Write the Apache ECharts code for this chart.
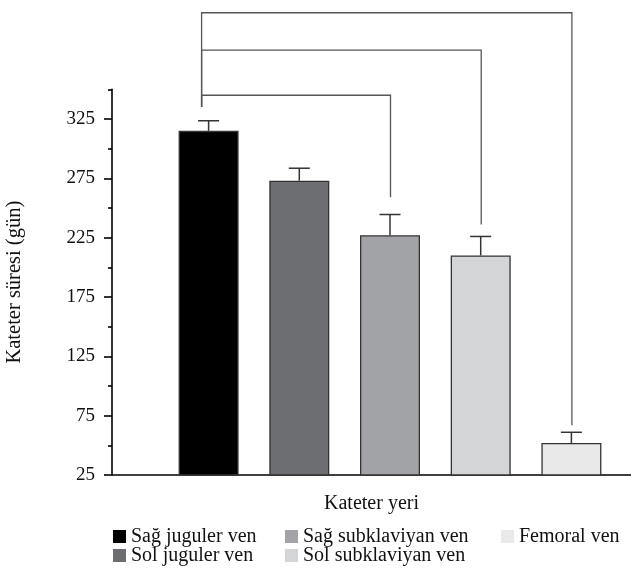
<!DOCTYPE html>
<html>
<head>
<meta charset="utf-8">
<script src="https://cdn.jsdelivr.net/npm/echarts@6/dist/echarts.min.js"></script>
<style>
html,body{margin:0;padding:0;background:#fff;}
#c{width:631px;height:575px;}
</style>
</head>
<body>
<div id="c"></div>
<script>
const categories = ['Sağ juguler ven', 'Sol juguler ven', 'Sağ subklaviyan ven', 'Sol subklaviyan ven', 'Femoral ven'];
const durations = [315, 273, 227, 210, 52];
const errors = [8.5, 10.5, 17.5, 16, 9];
const barColors = ['#000000', '#6d6e71', '#a2a3a6', '#d4d5d7', '#e9e9ea'];
const yMajorTicks = [25, 75, 125, 175, 225, 275, 325];
const yMinorTicks = [50, 100, 150, 200, 250, 300, 350];
// [fromIndex, toIndex, level, leftLegBottom, rightLegBottom]
const brackets = [
  [0, 2, 345, 335, 259],
  [0, 3, 383, 335, 236],
  [0, 4, 414.5, 335, 67]
];
// legend placement: [column, row] for each category
const legendSlots = [[0, 0], [0, 1], [1, 0], [1, 1], [2, 0]];

const FONT = 'Liberation Serif';
const chart = echarts.init(document.getElementById('c'), null, {renderer: 'canvas'});

const frameTop = 89.3, frameBottom = 100;
const colLeft = [113, 285, 501];
const rowTop = [526.5, 545.5];

const barSeries = categories.map((name, i) => ({
  name: name,
  type: 'bar',
  xAxisIndex: 1,
  yAxisIndex: 2,
  barWidth: 60,
  barGap: '-100%',
  itemStyle: {color: barColors[i], borderColor: '#333', borderWidth: 1.3},
  data: categories.map((c, j) => j === i ? durations[i] : '-'),
  z: 2
}));

const errSeries = {
  type: 'custom',
  xAxisIndex: 1,
  yAxisIndex: 2,
  data: durations.map((v, i) => [i, v, errors[i]]),
  z: 3,
  renderItem: function (params, api) {
    const i = api.value(0), v = api.value(1), e = api.value(2);
    const base = api.coord([i, v]);
    const top = api.coord([i, v + e]);
    const cap = 10.5;
    const st = {stroke: '#333', lineWidth: 1.5};
    return {
      type: 'group',
      children: [
        {type: 'line', shape: {x1: base[0], y1: base[1], x2: top[0], y2: top[1]}, style: st},
        {type: 'line', shape: {x1: top[0] - cap, y1: top[1], x2: top[0] + cap, y2: top[1]}, style: st}
      ]
    };
  }
};

const bracketSeries = {
  type: 'custom',
  xAxisIndex: 1,
  yAxisIndex: 2,
  clip: false,
  data: brackets,
  z: 4,
  renderItem: function (params, api) {
    const a = api.value(0), b = api.value(1), lvl = api.value(2), lb = api.value(3), rb = api.value(4);
    const pL = api.coord([a, lvl]);
    const pR = api.coord([b, lvl]);
    const pLB = api.coord([a, lb]);
    const pRB = api.coord([b, rb]);
    const dx = -7;
    return {
      type: 'polyline',
      shape: {points: [[pLB[0] + dx, pLB[1]], [pL[0] + dx, pL[1]], [pR[0] + 0.5, pR[1]], [pRB[0] + 0.5, pRB[1]]]},
      style: {stroke: '#555', lineWidth: 1.3, fill: null}
    };
  }
};

const option = {
  backgroundColor: '#fff',
  animation: false,
  textStyle: {fontFamily: FONT},
  grid: [
    {left: 112, right: 0, top: frameTop, bottom: frameBottom, outerBoundsMode: 'none', containLabel: false},
    {left: 163.25, width: 453.5, top: frameTop, bottom: frameBottom, outerBoundsMode: 'none', containLabel: false}
  ],
  legend: categories.map((name, i) => ({
    data: [name],
    orient: 'horizontal',
    left: colLeft[legendSlots[i][0]],
    top: rowTop[legendSlots[i][1]],
    padding: 0,
    itemWidth: 13,
    itemHeight: 13,
    icon: 'rect',
    itemStyle: {borderWidth: 0},
    selectedMode: false,
    textStyle: {fontFamily: FONT, fontSize: 20, color: '#111', lineHeight: 20}
  })),
  xAxis: [
    {
      type: 'value', gridIndex: 0, min: 0, max: 1,
      axisLine: {show: true, lineStyle: {color: '#000', width: 1.5}},
      axisTick: {show: false}, axisLabel: {show: false}, splitLine: {show: false},
      name: 'Kateter yeri', nameLocation: 'middle', nameGap: 19, nameMoveOverlap: false,
      nameTextStyle: {fontFamily: FONT, fontSize: 20, color: '#111'}
    },
    {
      type: 'category', gridIndex: 1, data: categories, show: false
    }
  ],
  yAxis: [
    {
      type: 'value', gridIndex: 0, position: 'left', min: 25, max: 350, interval: 25,
      axisLine: {show: true, lineStyle: {color: '#000', width: 1.6}},
      axisTick: {show: true, length: 8, lineStyle: {color: '#000', width: 1.6}, customValues: yMajorTicks},
      axisLabel: {show: true, margin: 17, fontFamily: FONT, fontSize: 19, color: '#111', customValues: yMajorTicks},
      splitLine: {show: false},
      name: 'Kateter süresi (gün)', nameLocation: 'middle', nameGap: 87, nameRotate: 90, nameMoveOverlap: false,
      nameTextStyle: {fontFamily: FONT, fontSize: 20.5, color: '#111'}
    },
    {
      type: 'value', gridIndex: 0, position: 'left', offset: 0, min: 25, max: 350, interval: 25,
      axisLine: {show: false},
      axisTick: {show: true, length: 4, lineStyle: {color: '#000', width: 1.6}, customValues: yMinorTicks},
      axisLabel: {show: false},
      splitLine: {show: false}
    },
    {
      type: 'value', gridIndex: 1, min: 25, max: 350, show: false, splitLine: {show: false}
    }
  ],
  series: barSeries.concat([errSeries, bracketSeries])
};
chart.setOption(option);
</script>
</body>
</html>
